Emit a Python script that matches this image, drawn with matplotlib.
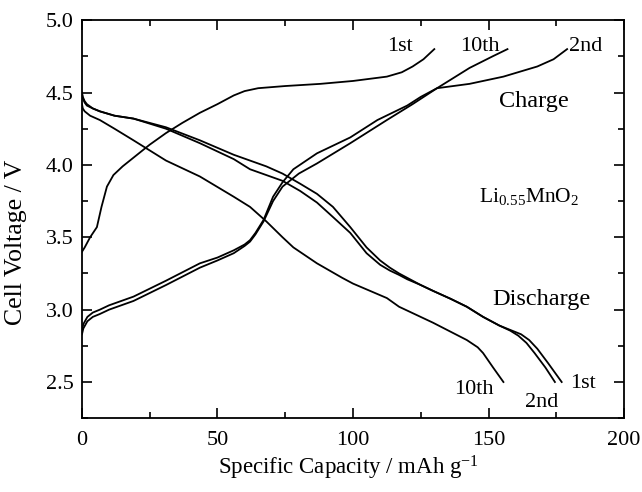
import matplotlib
matplotlib.use("Agg")
import matplotlib.pyplot as plt
from matplotlib.ticker import MultipleLocator, FormatStrFormatter

plt.rcParams['font.family'] = ['Liberation Serif', 'DejaVu Serif']
plt.rcParams['mathtext.fontset'] = 'custom'
plt.rcParams['mathtext.rm'] = 'Liberation Serif'
plt.rcParams['mathtext.it'] = 'Liberation Serif:italic'

# Charge curves
ch1_x = [0, 1, 3, 5.5, 7.2, 9.2, 11.6, 15, 19, 25, 31, 37, 43.5, 50, 56, 60, 65, 75, 88, 100, 112.5, 118, 122, 126, 130]
ch1_y = [3.40, 3.43, 3.50, 3.57, 3.71, 3.85, 3.93, 3.99, 4.05, 4.14, 4.22, 4.29, 4.36, 4.42, 4.48, 4.51, 4.53, 4.545, 4.56, 4.58, 4.61, 4.64, 4.68, 4.73, 4.80]

ch2_x = [0, 0.5, 2, 4, 6.6, 10, 19, 31, 43.5, 50, 56, 60, 62, 64, 67, 70.5, 74, 78, 86.7, 99, 109, 120, 125, 131, 143, 155.5, 168, 174, 179]
ch2_y = [2.86, 2.90, 2.95, 2.98, 3.00, 3.03, 3.09, 3.20, 3.32, 3.36, 3.41, 3.45, 3.48, 3.53, 3.62, 3.78, 3.88, 3.97, 4.08, 4.19, 4.31, 4.41, 4.47, 4.53, 4.56, 4.61, 4.68, 4.73, 4.80]

ch10_x = [0, 0.5, 2, 4, 6.6, 10, 19, 31, 43.5, 50, 56, 60, 62, 64, 67, 70.5, 74, 80, 86.7, 99, 112.5, 122, 131, 143, 151.5, 157]
ch10_y = [2.83, 2.87, 2.92, 2.95, 2.97, 3.00, 3.06, 3.17, 3.29, 3.34, 3.39, 3.44, 3.47, 3.52, 3.61, 3.75, 3.85, 3.94, 4.01, 4.15, 4.31, 4.42, 4.53, 4.67, 4.75, 4.80]

# Discharge curves
dc1_x = [0, 0.3, 1, 1.8, 4, 6.6, 12, 19, 31, 43.5, 56, 62, 68, 74, 80.5, 86.7, 92.6, 99, 105, 110, 113.6, 117, 120, 125, 129.5, 136, 142, 148, 154, 158, 162, 165, 168, 172, 177]
dc1_y = [4.50, 4.47, 4.44, 4.42, 4.39, 4.37, 4.34, 4.32, 4.26, 4.17, 4.07, 4.03, 3.99, 3.94, 3.87, 3.80, 3.71, 3.57, 3.43, 3.34, 3.29, 3.25, 3.22, 3.17, 3.13, 3.075, 3.02, 2.95, 2.89, 2.86, 2.83, 2.79, 2.73, 2.63, 2.50]

dc2_x = [0, 0.3, 1, 1.8, 4, 6.6, 12, 19, 31, 43.5, 56, 62, 68, 74, 80.5, 86.7, 92.6, 99, 105, 110, 113.6, 117, 120, 125, 129.5, 136, 142, 148, 154, 158, 161, 164, 167, 171, 174.5]
dc2_y = [4.49, 4.46, 4.43, 4.41, 4.39, 4.37, 4.34, 4.32, 4.25, 4.15, 4.04, 3.97, 3.93, 3.89, 3.82, 3.74, 3.64, 3.53, 3.39, 3.31, 3.27, 3.24, 3.21, 3.17, 3.13, 3.075, 3.02, 2.95, 2.89, 2.855, 2.82, 2.77, 2.70, 2.60, 2.50]

dc10_x = [0, 0.3, 1, 3, 6.6, 12, 19, 31, 43.5, 56, 62, 68, 74, 78, 86.7, 96, 100, 112.5, 117, 129.5, 142, 146, 148, 151.7, 155.5]
dc10_y = [4.42, 4.39, 4.37, 4.34, 4.31, 4.25, 4.17, 4.03, 3.92, 3.78, 3.71, 3.61, 3.50, 3.43, 3.32, 3.22, 3.18, 3.08, 3.02, 2.91, 2.79, 2.74, 2.70, 2.60, 2.50]

fig = plt.figure(figsize=(6.42, 4.92), dpi=100)
ax = fig.add_axes([0.1277, 0.150, 0.972 - 0.1277, 0.959 - 0.150])

for xs, ys in [(ch1_x, ch1_y), (ch2_x, ch2_y), (ch10_x, ch10_y),
               (dc1_x, dc1_y), (dc2_x, dc2_y), (dc10_x, dc10_y)]:
    ax.plot(xs, ys, color='black', lw=1.3)

ax.set_xlim(0, 200)
ax.set_ylim(2.25, 5.0)
ax.xaxis.set_major_locator(MultipleLocator(50))
ax.xaxis.set_minor_locator(MultipleLocator(25))
ax.yaxis.set_major_locator(MultipleLocator(0.5))
ax.yaxis.set_minor_locator(MultipleLocator(0.25))
ax.yaxis.set_major_formatter(FormatStrFormatter('%.1f'))
ax.tick_params(which='both', direction='in', top=True, right=True, width=1.2, labelsize=16)
ax.tick_params(axis='x', pad=9)
ax.tick_params(axis='y', pad=6)
ax.tick_params(which='major', length=7)
ax.tick_params(which='minor', length=4)
for s in ax.spines.values():
    s.set_linewidth(1.3)

fig.text(348 / 642, 1 - 468 / 492, 'Specific Capacity / mAh g$^{\\mathdefault{-1}}$',
         fontsize=16.5, ha='center', va='center')
fig.text(16 / 642, 1 - 242 / 492, 'Cell Voltage / V', fontsize=18.5,
         ha='center', va='center', rotation=90)

fs = 16
ax.text(117.5, 4.786, '1st', fontsize=fs, ha='center', va='baseline')
ax.text(146.9, 4.786, '10th', fontsize=fs, ha='center', va='baseline')
ax.text(186, 4.786, '2nd', fontsize=fs, ha='center', va='baseline')
ax.text(166.6, 4.40, 'Charge', fontsize=17.5, ha='center', va='baseline')
ax.text(165, 3.743, 'Li$_{\\mathdefault{0.55}}$MnO$_{\\mathdefault{2}}$', fontsize=15.5, ha='center', va='baseline')
ax.text(169.7, 3.032, 'Discharge', fontsize=17.5, ha='center', va='baseline')
ax.text(144.6, 2.417, '10th', fontsize=fs, ha='center', va='baseline')
ax.text(169.6, 2.327, '2nd', fontsize=fs, ha='center', va='baseline')
ax.text(184.7, 2.459, '1st', fontsize=fs, ha='center', va='baseline')

fig.savefig('out.png', dpi=100)
